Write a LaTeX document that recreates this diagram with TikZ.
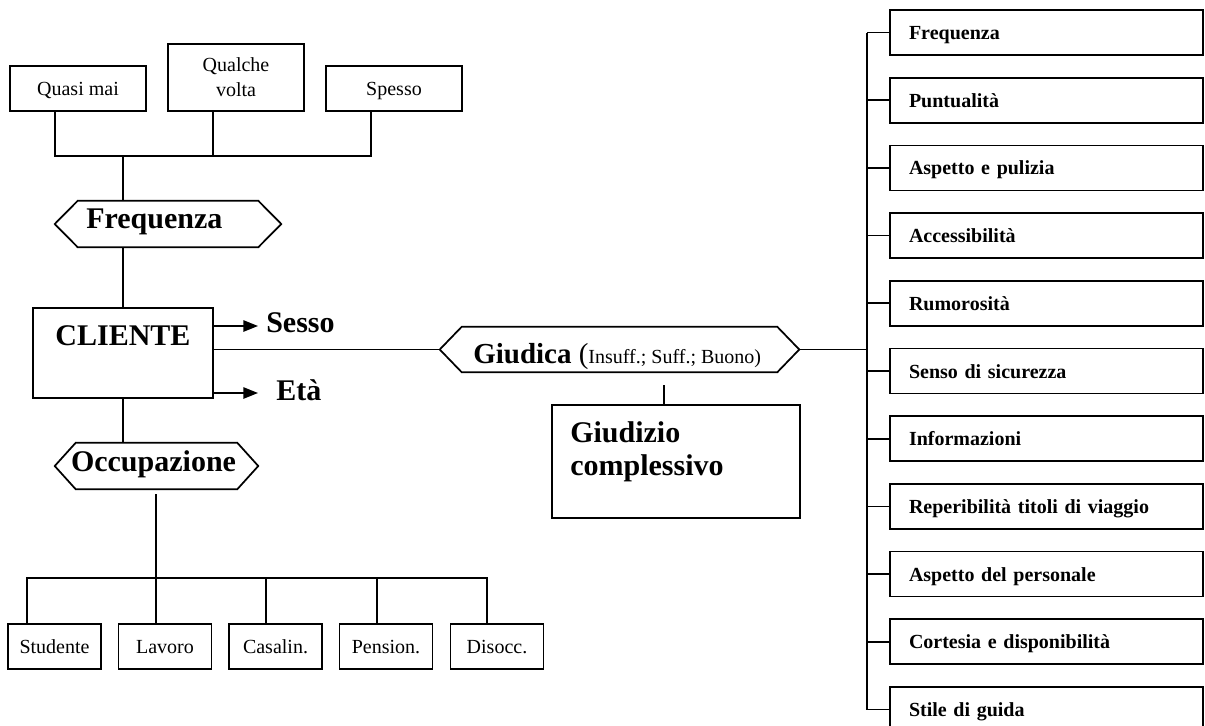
\documentclass[tikz,border=0pt]{standalone}
\usepackage{fontspec}
\setmainfont{Liberation Serif}
\usetikzlibrary{arrows.meta}
\def\pxu{0.75pt}
\newcommand{\hexdraw}[2]{\draw[ln] (#1.west) -- ([xshift=#2*\pxu]#1.north west) -- ([xshift=-#2*\pxu]#1.north east) -- (#1.east) -- ([xshift=-#2*\pxu]#1.south east) -- ([xshift=#2*\pxu]#1.south west) -- cycle;}
\begin{document}
\begin{tikzpicture}[x=0.75pt,y=-0.75pt,
  ln/.style={line width=1.3pt},
  box/.style={draw,ln,inner sep=0pt,align=center,font=\fontsize{15}{18.75}\selectfont},
  onel/.style={box,text height=15*\pxu,text depth=2*\pxu},
  frame/.style={draw,ln,inner sep=0pt},
  shapebox/.style={inner sep=0pt},
  bigb/.style={inner sep=0pt,font=\fontsize{22.5}{24.75}\selectfont\bfseries},
  rbox/.style={draw,ln,minimum height=45*\pxu,text width=275*\pxu,inner xsep=19*\pxu,inner ysep=0pt,align=left,font=\fontsize{15}{18}\selectfont\bfseries,text height=14*\pxu,text depth=0pt},
  arr/.style={ln,-{Triangle[length=11pt,width=8.5pt]}}
]
\useasboundingbox (0,0) rectangle (1205,725);

% ---- top: frequency values
\node[onel,minimum width=136*\pxu,minimum height=45*\pxu] (qm) at (78,88.5) {Quasi mai};
\node[box,minimum width=136*\pxu,minimum height=67*\pxu] (qv) at (236,77.5) {Qualche\\volta};
\node[onel,minimum width=136*\pxu,minimum height=45*\pxu] (sp) at (394,88.5) {Spesso};
\coordinate (tbar) at (123,156);
\draw[ln] ([xshift=-23*\pxu]qm.south) |- ([xshift=-23*\pxu]sp.south |- tbar) -- ([xshift=-23*\pxu]sp.south);
\draw[ln] ([xshift=-23*\pxu]qv.south) -- ([xshift=-23*\pxu]qv.south |- tbar);

% ---- Frequenza hexagon
\node[shapebox,minimum width=226*\pxu,minimum height=46*\pxu] (fq) at (168,224) {};
\hexdraw{fq}{23}
\node[bigb,anchor=base west] (fqt) at (86,228) {Frequenza};
\draw[ln] (tbar) -- (tbar |- fq.north);

% ---- CLIENTE
\node[frame,minimum width=180*\pxu,minimum height=90*\pxu] (cl) at (123,353) {};
\node[bigb,anchor=base] (clt) at (123,345) {CLIENTE};
\draw[ln] (tbar |- fq.south) -- (cl.north);

\node[bigb,anchor=base west] (sesso) at (266,332) {Sesso};
\node[bigb,anchor=base west] (eta) at (276,400) {Età};
\coordinate (ys) at (0,326);
\coordinate (ye) at (0,393);
\draw[arr] (cl.east |- ys) -- ([xshift=-8*\pxu]sesso.west |- ys);
\draw[arr] (cl.east |- ye) -- ([xshift=-18*\pxu]eta.west |- ye);

% ---- Giudica hexagon
\node[shapebox,minimum width=359*\pxu,minimum height=45*\pxu] (gd) at (619.5,349.5) {};
\hexdraw{gd}{22}
\node[inner sep=0pt,anchor=base west,font=\fontsize{21.75}{24}\selectfont] (gdt) at (473,363) {\textbf{Giudica} ({\fontsize{15}{18}\selectfont Insuff.; Suff.; Buono)}};
\draw[ln] (cl.east |- gd.west) -- (gd.west);

% ---- Giudizio complessivo
\node[frame,minimum width=248*\pxu,minimum height=113*\pxu] (gz) at (676,461.5) {};
\node[bigb,anchor=north west,align=left] (gzt) at (570,421.5) {Giudizio\\complessivo};
\coordinate (gzs) at (664,385);
\draw[ln] (gzs) -- (gzs |- gz.north);

% ---- right column
\foreach \t [count=\i] in {Frequenza,Puntualità,Aspetto e pulizia,Accessibilità,Rumorosità,Senso di sicurezza,Informazioni,Reperibilità titoli di viaggio,Aspetto del personale,Cortesia e disponibilità,Stile di guida}{
  \node[rbox] (r\i) at (1046.5,{32.5+67.7*(\i-1)}) {\t};
}
\coordinate (rbar) at (867,0);
\draw[ln] (r1.west -| rbar) -- (r11.west -| rbar);
\foreach \i in {1,...,11}{\draw[ln] (r\i.west) -- (r\i.west -| rbar);}
\draw[ln] (gd.east) -- (gd.east -| rbar);

% ---- Occupazione
\node[shapebox,minimum width=203*\pxu,minimum height=46*\pxu] (oc) at (156.5,466) {};
\hexdraw{oc}{21}
\node[bigb,anchor=base] (oct) at (153.5,471) {Occupazione};
\draw[ln] (cl.south) -- (cl.south |- oc.north);

\node[onel,minimum width=93*\pxu,minimum height=45*\pxu] (o1) at (54.5,646.5) {Studente};
\node[onel,minimum width=93*\pxu,minimum height=45*\pxu] (o2) at (165,646.5) {Lavoro};
\node[onel,minimum width=93*\pxu,minimum height=45*\pxu] (o3) at (275.5,646.5) {Casalin.};
\node[onel,minimum width=93*\pxu,minimum height=45*\pxu] (o4) at (386,646.5) {Pension.};
\node[onel,minimum width=93*\pxu,minimum height=45*\pxu] (o5) at (497,646.5) {Disocc.};
\coordinate (ocs) at (156,494);
\coordinate (obar) at (156,578);
\draw[ln] (ocs) -- (obar);
\draw[ln] ([xshift=-27.5*\pxu]o1.north) |- ([xshift=-10*\pxu]o5.north |- obar) -- ([xshift=-10*\pxu]o5.north);
\draw[ln] ([xshift=-9*\pxu]o2.north) -- ([xshift=-9*\pxu]o2.north |- obar);
\draw[ln] ([xshift=-9.5*\pxu]o3.north) -- ([xshift=-9.5*\pxu]o3.north |- obar);
\draw[ln] ([xshift=-9*\pxu]o4.north) -- ([xshift=-9*\pxu]o4.north |- obar);
\end{tikzpicture}
\end{document}
